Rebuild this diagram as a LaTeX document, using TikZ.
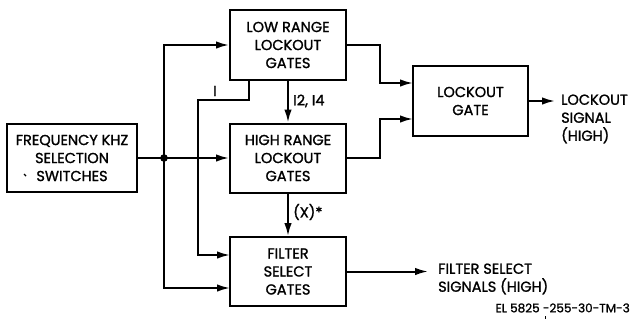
\documentclass[tikz,border=0pt]{standalone}
\usepackage{fontspec}
\setmainfont{Poppins}[BoldFont=Poppins,BoldFeatures={FakeBold=1.3}]
\usetikzlibrary{arrows.meta}
\begin{document}
\begin{tikzpicture}[x=1pt,y=-1pt,
  blk/.style={draw,line width=2pt,align=center,inner sep=0pt,font=\fontsize{14.5}{18}\selectfont\bfseries},
  wire/.style={line width=2pt},
  arr/.style={wire,-{Latex[length=13pt,width=7.5pt]}},
  lbl/.style={font=\fontsize{14.5}{18}\selectfont\bfseries,inner sep=0pt},
  sml/.style={font=\fontsize{12}{14}\selectfont\bfseries,inner sep=0pt}]
\useasboundingbox (0,0) rectangle (631,325);
% blocks
\node[blk,minimum width=130pt,minimum height=68pt] (freq) at (72,158) {FREQUENCY KHZ\\SELECTION\\SWITCHES};
\node[blk,minimum width=116pt,minimum height=70pt] (low) at (288,45) {LOW RANGE\\LOCKOUT\\GATES};
\node[blk,minimum width=116pt,minimum height=69pt] (high) at (288,158) {HIGH RANGE\\LOCKOUT\\GATES};
\node[blk,minimum width=116pt,minimum height=69pt] (filt) at (288,271.5) {FILTER\\SELECT\\GATES};
\node[blk,minimum width=115pt,minimum height=70pt] (lock) at (470.5,101) {LOCKOUT\\GATE};
% coordinates
\coordinate (junc) at (164,158);
\coordinate (fin1) at (230,255);
\coordinate (fin2) at (230,288);
\coordinate (lowI) at (249,80);
\coordinate (ibend) at (198,100);
\coordinate (lkin1) at (413,83);
\coordinate (lkin2) at (413,119);
\coordinate (lowout) at (346,45);
\coordinate (highout) at (346,158);
\coordinate (lkout) at (555,101);
\coordinate (fsout) at (428,271.5);
% wires
\draw[wire] (freq.east) -- (junc);
\fill (junc) circle (3.8pt);
\draw[arr] (junc) -- (high.west);
\draw[arr] (junc) |- (low.west);
\draw[arr] (junc) |- (fin2);
\draw[arr] (lowI) |- (ibend) |- (fin1);
\draw[arr] (low.south) -- (high.north);
\draw[arr] (high.south) -- (filt.north);
\draw[arr] (lowout) -| (380,83) -- (lkin1);
\draw[arr] (highout) -| (380,119) -- (lkin2);
\draw[arr] (lock.east) -- (lkout);
\draw[arr] (filt.east) -- (fsout);
% labels
\node[lbl] (li) at (215,91) {I};
\node[lbl,anchor=west] (l1214) at (293,101) {I2, I4};
\node[lbl,anchor=west] (lx) at (293,212) {(X)*};
\node[lbl,anchor=west,align=left] (lksig) at (561,119) {LOCKOUT\\SIGNAL\\(HIGH)};
\node[lbl,anchor=west,align=left] (fssig) at (438,279) {FILTER SELECT\\SIGNALS (HIGH)};
\node[sml,anchor=east] (cap) at (630,308) {EL 5825 -255-30-TM-3};
% small marks
\draw[line width=1.4pt] (24,174) -- (26,176);
\draw[line width=0.8pt] (545,316) -- (545,319);
\end{tikzpicture}
\end{document}
